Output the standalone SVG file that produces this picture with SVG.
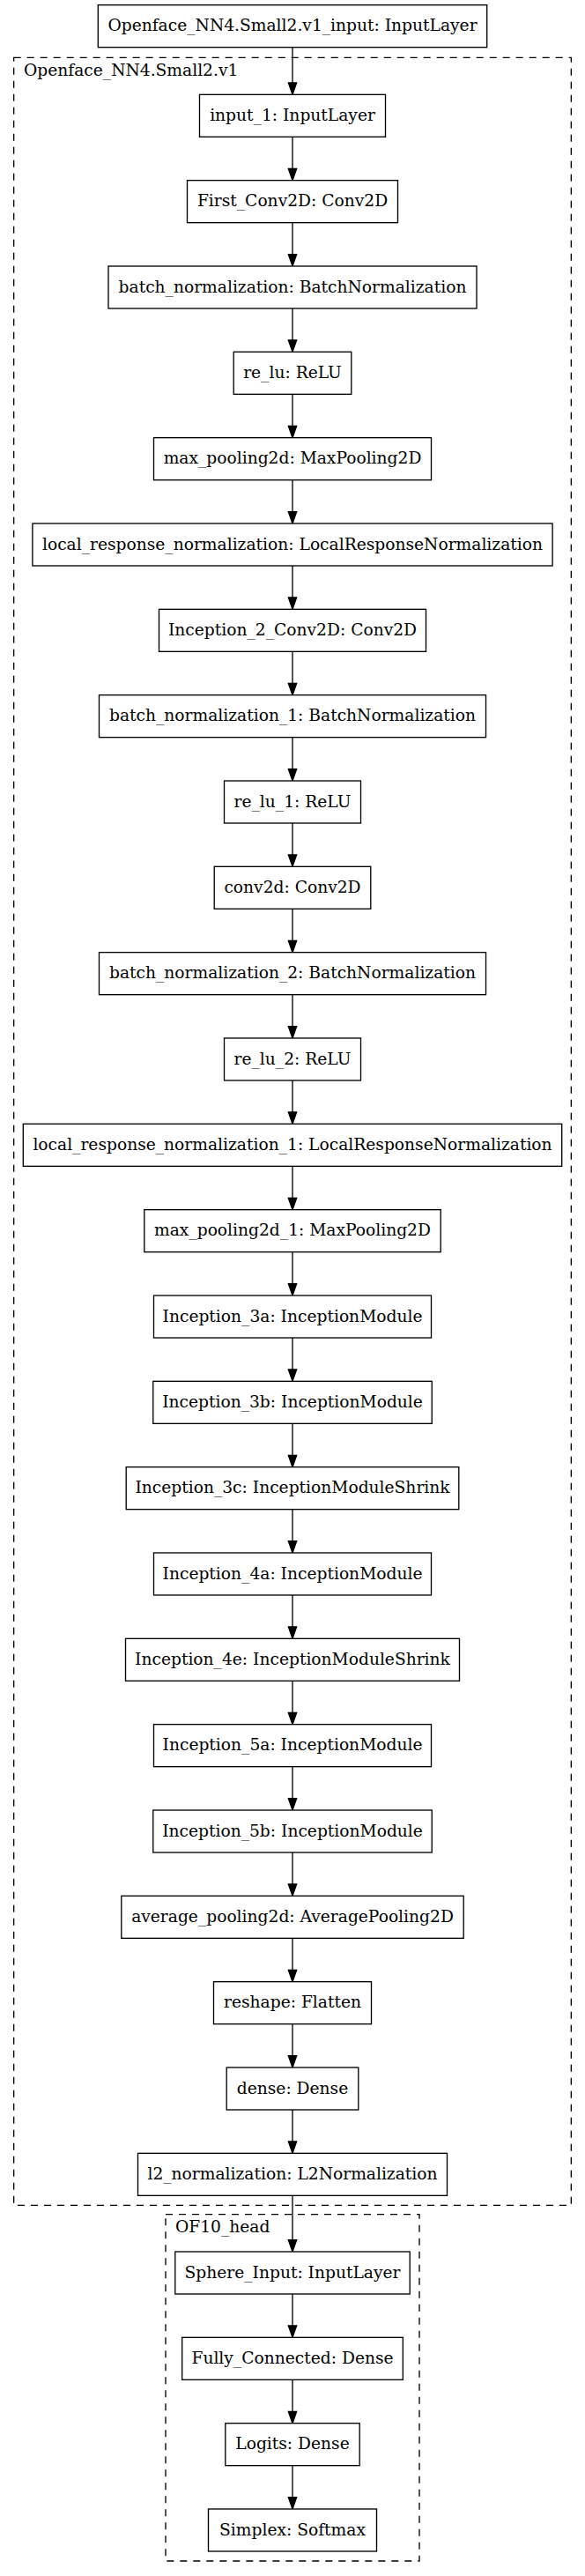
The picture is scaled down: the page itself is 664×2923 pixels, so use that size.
<svg xmlns="http://www.w3.org/2000/svg" width="664" height="2923" viewBox="0 0 664 2923">
<style>
.n rect{fill:#fff;stroke:#000;stroke-width:1.33}
.n text,.cl text{font-family:"DejaVu Serif",serif;font-size:18.67px;fill:#000}
.n text{text-anchor:middle}
.cl rect{fill:none;stroke:#000;stroke-width:1.33;stroke-dasharray:8,7}
.e line{stroke:#000;stroke-width:1.33}
.e polygon{fill:#000;stroke:#000;stroke-width:1.33}
</style>
<rect x="0" y="0" width="664" height="2923" fill="#fff"/>
<g id="clusters" class="cl">
<g id="cluster_main"><rect x="15.67" y="65.33" width="632.66" height="2437"/><text x="27" y="86">Openface_NN4.Small2.v1</text></g>
<g id="cluster_head"><rect x="188" y="2512.67" width="288" height="393.33"/><text x="199" y="2533">OF10_head</text></g>
</g>
<g id="connectors" class="e">
<line x1="332" y1="53.67" x2="332" y2="94"/><polygon points="332,107.33 327.33,94 336.67,94"/>
<line x1="332" y1="155.33" x2="332" y2="191.33"/><polygon points="332,204.67 327.33,191.33 336.67,191.33"/>
<line x1="332" y1="252.67" x2="332" y2="288.67"/><polygon points="332,302 327.33,288.67 336.67,288.67"/>
<line x1="332" y1="350" x2="332" y2="386"/><polygon points="332,399.33 327.33,386 336.67,386"/>
<line x1="332" y1="447.33" x2="332" y2="483.33"/><polygon points="332,496.67 327.33,483.33 336.67,483.33"/>
<line x1="332" y1="544.67" x2="332" y2="580.67"/><polygon points="332,594 327.33,580.67 336.67,580.67"/>
<line x1="332" y1="642" x2="332" y2="678"/><polygon points="332,691.33 327.33,678 336.67,678"/>
<line x1="332" y1="739.33" x2="332" y2="775.33"/><polygon points="332,788.67 327.33,775.33 336.67,775.33"/>
<line x1="332" y1="836.67" x2="332" y2="872.67"/><polygon points="332,886 327.33,872.67 336.67,872.67"/>
<line x1="332" y1="934" x2="332" y2="970"/><polygon points="332,983.33 327.33,970 336.67,970"/>
<line x1="332" y1="1031.33" x2="332" y2="1067.33"/><polygon points="332,1080.67 327.33,1067.33 336.67,1067.33"/>
<line x1="332" y1="1128.67" x2="332" y2="1164.67"/><polygon points="332,1178 327.33,1164.67 336.67,1164.67"/>
<line x1="332" y1="1226" x2="332" y2="1262"/><polygon points="332,1275.33 327.33,1262 336.67,1262"/>
<line x1="332" y1="1323.33" x2="332" y2="1359.33"/><polygon points="332,1372.67 327.33,1359.33 336.67,1359.33"/>
<line x1="332" y1="1420.67" x2="332" y2="1456.67"/><polygon points="332,1470 327.33,1456.67 336.67,1456.67"/>
<line x1="332" y1="1518" x2="332" y2="1554"/><polygon points="332,1567.33 327.33,1554 336.67,1554"/>
<line x1="332" y1="1615.33" x2="332" y2="1651.33"/><polygon points="332,1664.67 327.33,1651.33 336.67,1651.33"/>
<line x1="332" y1="1712.67" x2="332" y2="1748.67"/><polygon points="332,1762 327.33,1748.67 336.67,1748.67"/>
<line x1="332" y1="1810" x2="332" y2="1846"/><polygon points="332,1859.33 327.33,1846 336.67,1846"/>
<line x1="332" y1="1907.33" x2="332" y2="1943.33"/><polygon points="332,1956.67 327.33,1943.33 336.67,1943.33"/>
<line x1="332" y1="2004.67" x2="332" y2="2040.67"/><polygon points="332,2054 327.33,2040.67 336.67,2040.67"/>
<line x1="332" y1="2102" x2="332" y2="2138"/><polygon points="332,2151.33 327.33,2138 336.67,2138"/>
<line x1="332" y1="2199.33" x2="332" y2="2235.33"/><polygon points="332,2248.67 327.33,2235.33 336.67,2235.33"/>
<line x1="332" y1="2296.67" x2="332" y2="2332.67"/><polygon points="332,2346 327.33,2332.67 336.67,2332.67"/>
<line x1="332" y1="2394" x2="332" y2="2430"/><polygon points="332,2443.33 327.33,2430 336.67,2430"/>
<line x1="332" y1="2491.33" x2="332" y2="2541.67"/><polygon points="332,2555 327.33,2541.67 336.67,2541.67"/>
<line x1="332" y1="2603" x2="332" y2="2639"/><polygon points="332,2652.33 327.33,2639 336.67,2639"/>
<line x1="332" y1="2700.33" x2="332" y2="2736.33"/><polygon points="332,2749.67 327.33,2736.33 336.67,2736.33"/>
<line x1="332" y1="2797.67" x2="332" y2="2833.67"/><polygon points="332,2847 327.33,2833.67 336.67,2833.67"/>
</g>
<g id="n_top" class="n"><rect x="111.3" y="5.67" width="441.4" height="48"/><text x="332" y="35.2">Openface_NN4.Small2.v1_input: InputLayer</text></g>
<g id="n_input_1" class="n"><rect x="226.5" y="107.33" width="211" height="48"/><text x="332" y="136.8">input_1: InputLayer</text></g>
<g id="n_first_conv" class="n"><rect x="212.5" y="204.67" width="239" height="48"/><text x="332" y="234.2">First_Conv2D: Conv2D</text></g>
<g id="n_bn" class="n"><rect x="123" y="302" width="418" height="48"/><text x="332" y="331.5">batch_normalization: BatchNormalization</text></g>
<g id="n_relu" class="n"><rect x="265.2" y="399.33" width="133.6" height="48"/><text x="332" y="428.8">re_lu: ReLU</text></g>
<g id="n_maxpool" class="n"><rect x="174.5" y="496.67" width="315" height="48"/><text x="332" y="526.2">max_pooling2d: MaxPooling2D</text></g>
<g id="n_lrn" class="n"><rect x="36.9" y="594" width="590.2" height="48"/><text x="332" y="623.5">local_response_normalization: LocalResponseNormalization</text></g>
<g id="n_inc2" class="n"><rect x="180.5" y="691.33" width="303" height="48"/><text x="332" y="720.8">Inception_2_Conv2D: Conv2D</text></g>
<g id="n_bn1" class="n"><rect x="112.5" y="788.67" width="439" height="48"/><text x="332" y="818.2">batch_normalization_1: BatchNormalization</text></g>
<g id="n_relu1" class="n"><rect x="254.5" y="886" width="155" height="48"/><text x="332" y="915.5">re_lu_1: ReLU</text></g>
<g id="n_conv2d" class="n"><rect x="243.2" y="983.33" width="177.6" height="48"/><text x="332" y="1012.8">conv2d: Conv2D</text></g>
<g id="n_bn2" class="n"><rect x="112.5" y="1080.67" width="439" height="48"/><text x="332" y="1110.2">batch_normalization_2: BatchNormalization</text></g>
<g id="n_relu2" class="n"><rect x="254.5" y="1178" width="155" height="48"/><text x="332" y="1207.5">re_lu_2: ReLU</text></g>
<g id="n_lrn1" class="n"><rect x="26.3" y="1275.33" width="611.4" height="48"/><text x="332" y="1304.8">local_response_normalization_1: LocalResponseNormalization</text></g>
<g id="n_maxpool1" class="n"><rect x="163.8" y="1372.67" width="336.4" height="48"/><text x="332" y="1402.2">max_pooling2d_1: MaxPooling2D</text></g>
<g id="n_3a" class="n"><rect x="174.5" y="1470" width="315" height="48"/><text x="332" y="1499.5">Inception_3a: InceptionModule</text></g>
<g id="n_3b" class="n"><rect x="173.8" y="1567.33" width="316.4" height="48"/><text x="332" y="1596.8">Inception_3b: InceptionModule</text></g>
<g id="n_3c" class="n"><rect x="143.2" y="1664.67" width="377.6" height="48"/><text x="332" y="1694.2">Inception_3c: InceptionModuleShrink</text></g>
<g id="n_4a" class="n"><rect x="174.5" y="1762" width="315" height="48"/><text x="332" y="1791.5">Inception_4a: InceptionModule</text></g>
<g id="n_4e" class="n"><rect x="142.5" y="1859.33" width="379" height="48"/><text x="332" y="1888.8">Inception_4e: InceptionModuleShrink</text></g>
<g id="n_5a" class="n"><rect x="174.5" y="1956.67" width="315" height="48"/><text x="332" y="1986.2">Inception_5a: InceptionModule</text></g>
<g id="n_5b" class="n"><rect x="173.8" y="2054" width="316.4" height="48"/><text x="332" y="2083.5">Inception_5b: InceptionModule</text></g>
<g id="n_avgpool" class="n"><rect x="137.8" y="2151.33" width="388.4" height="48"/><text x="332" y="2180.8">average_pooling2d: AveragePooling2D</text></g>
<g id="n_reshape" class="n"><rect x="242.5" y="2248.67" width="179" height="48"/><text x="332" y="2278.2">reshape: Flatten</text></g>
<g id="n_dense" class="n"><rect x="257.2" y="2346" width="149.6" height="48"/><text x="332" y="2375.5">dense: Dense</text></g>
<g id="n_l2" class="n"><rect x="156.5" y="2443.33" width="351" height="48"/><text x="332" y="2472.8">l2_normalization: L2Normalization</text></g>
<g id="n_sphere" class="n"><rect x="198.8" y="2555" width="266.4" height="48"/><text x="332" y="2584.5">Sphere_Input: InputLayer</text></g>
<g id="n_fc" class="n"><rect x="206.7" y="2652.33" width="250.6" height="48"/><text x="332" y="2681.8">Fully_Connected: Dense</text></g>
<g id="n_logits" class="n"><rect x="255.8" y="2749.67" width="152.4" height="48"/><text x="332" y="2779.2">Logits: Dense</text></g>
<g id="n_simplex" class="n"><rect x="236.5" y="2847" width="191" height="48"/><text x="332" y="2876.5">Simplex: Softmax</text></g>
</svg>
